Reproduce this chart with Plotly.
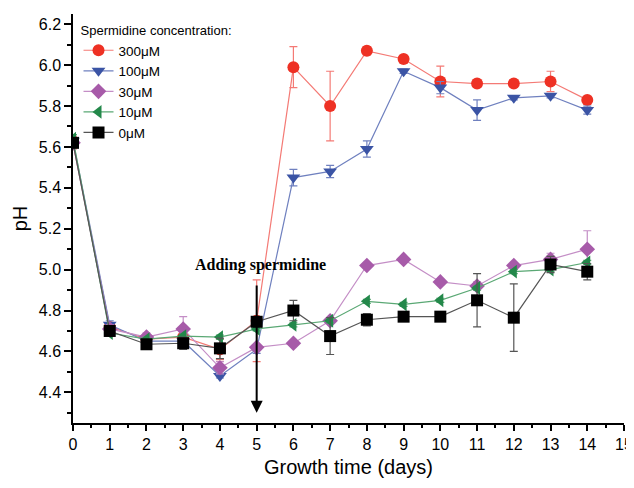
import plotly.graph_objects as go

days = list(range(15))

ph_300 = [5.62, 4.72, 4.66, 4.67, 4.61, 4.75, 5.99, 5.80, 6.07, 6.03, 5.92, 5.91, 5.91, 5.92, 5.83]
err_300 = [0.03, 0.02, 0.02, 0.05, 0.05, 0.20, 0.10, 0.17, 0.02, 0.01, 0.075, 0.01, 0.01, 0.05, 0.01]

ph_100 = [5.63, 4.73, 4.65, 4.65, 4.48, 4.61, 5.45, 5.48, 5.59, 5.97, 5.89, 5.78, 5.84, 5.85, 5.78]
err_100 = [0.03, 0.02, 0.02, 0.03, 0.01, 0.02, 0.04, 0.03, 0.04, 0.01, 0.03, 0.05, 0.01, 0.01, 0.02]

ph_30 = [5.62, 4.71, 4.67, 4.71, 4.52, 4.62, 4.64, 4.75, 5.02, 5.05, 4.94, 4.92, 5.02, 5.05, 5.10]
err_30 = [0.02, 0.02, 0.02, 0.06, 0.03, 0.01, 0.01, 0.01, 0.01, 0.01, 0.01, 0.02, 0.01, 0.03, 0.09]

ph_10 = [5.64, 4.69, 4.66, 4.675, 4.67, 4.71, 4.73, 4.75, 4.845, 4.83, 4.85, 4.91, 4.99, 5.00, 5.035]
err_10 = [0.02, 0.01, 0.01, 0.01, 0.01, 0.01, 0.01, 0.01, 0.01, 0.01, 0.01, 0.01, 0.01, 0.01, 0.01]

ph_0 = [5.62, 4.70, 4.635, 4.64, 4.615, 4.745, 4.80, 4.675, 4.755, 4.77, 4.77, 4.85, 4.765, 5.025, 4.99]
err_0 = [0.02, 0.01, 0.01, 0.03, 0.05, 0.02, 0.05, 0.09, 0.03, 0.02, 0.02, 0.13, 0.165, 0.04, 0.04]

series = [
    ("300μM", ph_300, err_300, "circle", "#ee3124", "#f47a75"),
    ("100μM", ph_100, err_100, "triangle-down", "#3b54a5", "#6f80bf"),
    ("30μM", ph_30, err_30, "diamond", "#a75ba9", "#c48ec6"),
    ("10μM", ph_10, err_10, "triangle-left", "#23884a", "#5aa874"),
    ("0μM", ph_0, err_0, "square", "#000000", "#555555"),
]

fig = go.Figure()
for name, y, e, sym, mc, lc in series:
    fig.add_trace(go.Scatter(
        x=days, y=y, name=name, mode="lines+markers",
        line=dict(color=lc, width=1.2),
        marker=dict(symbol=sym, size=12, color=mc, line=dict(width=0)),
        error_y=dict(type="data", array=e, visible=True, color=lc, thickness=1.2, width=4),
    ))

fig.add_annotation(x=5, y=4.30, ax=5, ay=4.93, xref="x", yref="y", axref="x", ayref="y",
                   text="", showarrow=True, arrowhead=2, arrowsize=1.2, arrowwidth=2,
                   arrowcolor="black")
fig.add_annotation(x=5.1, y=5.025, xref="x", yref="y", text="<b>Adding spermidine</b>",
                   showarrow=False, font=dict(family="Liberation Serif", size=16, color="black"))

fig.update_layout(
    width=626, height=472,
    margin=dict(l=65, r=10, t=6, b=57),
    plot_bgcolor="white", paper_bgcolor="white",
    font=dict(family="Liberation Sans, Arial", color="black"),
    legend=dict(x=0.01, y=0.99, xanchor="left", yanchor="top",
                title=dict(text="Spermidine concentration:", font=dict(size=13)),
                font=dict(size=13.5), bgcolor="rgba(0,0,0,0)", tracegroupgap=0,
                itemwidth=30),
    showlegend=True,
)
fig.update_xaxes(
    range=[0, 15], tickmode="array", tickvals=list(range(16)),
    ticktext=[str(i) for i in range(16)],
    showline=True, linecolor="black", linewidth=1.5, mirror=False,
    ticks="outside", ticklen=6, tickwidth=1.5, tickcolor="black",
    minor=dict(ticks="outside", ticklen=3, tickwidth=1.5, tickcolor="black", dtick=0.5, showgrid=False),
    showgrid=False, zeroline=False, automargin=False,
    tickfont=dict(size=16), ticklabeloverflow="allow",
    title=dict(text="Growth time (days)", font=dict(size=20), standoff=8),
)
fig.update_yaxes(
    range=[4.25, 6.25], tickmode="array",
    tickvals=[4.4, 4.6, 4.8, 5.0, 5.2, 5.4, 5.6, 5.8, 6.0, 6.2],
    ticktext=["4.4", "4.6", "4.8", "5.0", "5.2", "5.4", "5.6", "5.8", "6.0", "6.2"],
    showline=True, linecolor="black", linewidth=1.5, mirror=False,
    ticks="outside", ticklen=7, tickwidth=1.5, tickcolor="black",
    minor=dict(ticks="outside", ticklen=4, tickwidth=1.5, tickcolor="black", tick0=4.3, dtick=0.2, showgrid=False),
    showgrid=False, zeroline=False, automargin=False,
    tickfont=dict(size=16),
    title=dict(text="pH", font=dict(size=20), standoff=6),
)

fig.write_html("out.html")
